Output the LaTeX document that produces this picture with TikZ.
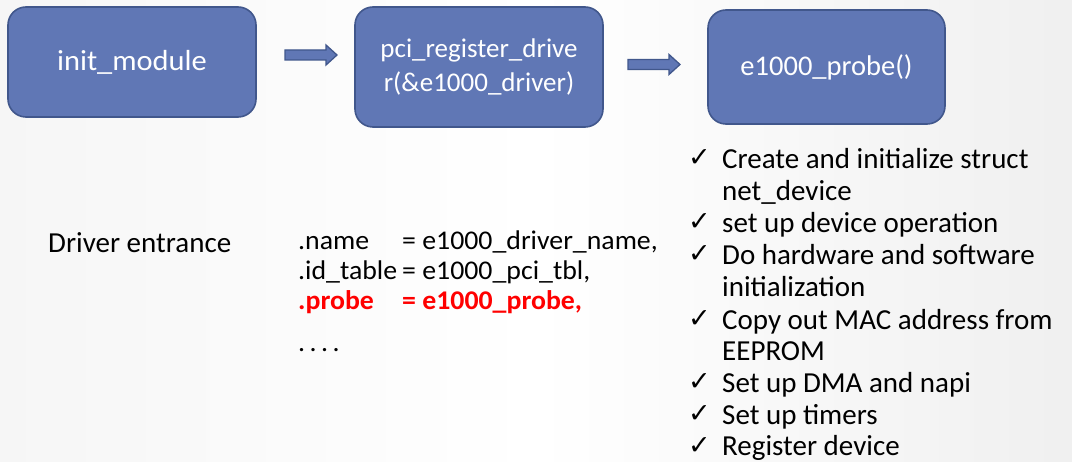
\documentclass[tikz,border=0pt]{standalone}
\usepackage{fontspec}
\setmainfont{Carlito}
\newfontfamily\symfont{DejaVu Sans}
\newfontfamily\widefont[FakeStretch=1.05]{Carlito}
\newfontfamily\codefont[FakeStretch=1.03]{Carlito}
\definecolor{boxblue}{HTML}{6077B5}
\definecolor{boxedge}{HTML}{41578C}
\definecolor{probered}{HTML}{FF0000}
\tikzset{
  blk/.style={draw=boxedge, line width=1.6pt, fill=boxblue, rounded corners=18pt,
    text=white, font=\fontsize{27}{34}\selectfont, align=center, inner sep=0pt},
  blockarrow/.pic={\filldraw[draw=boxedge, fill=boxblue, line width=1.3pt]
     (0,-5)--(41,-5)--(41,-10)--(52,0)--(41,10)--(41,5)--(0,5)--cycle;},
  plain/.style={anchor=base west, inner sep=0pt, font=\fontsize{29}{30}\selectfont},
  code/.style={anchor=base west, inner sep=0pt, font=\codefont\fontsize{27}{30}\selectfont},
  redcode/.style={code, text=probered, font=\codefont\fontsize{27}{30}\selectfont\bfseries},
  item/.style={anchor=base west, inner sep=0pt, font=\fontsize{29}{32}\selectfont},
  tick/.style={anchor=base west, inner sep=0pt, font=\symfont\fontsize{27}{28}\selectfont},
}
\begin{document}
\begin{tikzpicture}[x=1pt, y=-1pt]
\shade[left color=gray!7, right color=gray!12, middle color=white, shading angle=90]
  (0,0) rectangle (1072,462);
\useasboundingbox (0,0) rectangle (1072,462);

\node[blk, minimum width=248pt, minimum height=110pt, font=\widefont\fontsize{29}{34}\selectfont] (m1) at (132,62) {init\_module};
\node[blk, minimum width=248pt, minimum height=120pt] (m2) at (479,67) {pci\_register\_drive\\r(\&e1000\_driver)};
\node[blk, minimum width=237pt, minimum height=114pt, font=\fontsize{28.5}{34}\selectfont] (m3) at (826.5,67) {e1000\_probe()};

\coordinate (a1) at (285,55);
\coordinate (a2) at (628,64.5);
\pic at (a1) {blockarrow};
\pic at (a2) {blockarrow};

\node[plain] (drv) at (48,253) {Driver entrance};

\node[code] (n1) at (298,250) {.name};
\node[code] (v1) at (402,250) {= e1000\_driver\_name,};
\node[code] (n2) at (298,280) {.id\_table};
\node[code] (v2) at (402,280) {= e1000\_pci\_tbl,};
\node[redcode] (n3) at (298,310) {.probe};
\node[redcode] (v3) at (402,310) {= e1000\_probe,};
\node[code] (n4) at (298,352) {.\,.\,.\,.};

\foreach \y/\t [count=\i] in {
  169/{Create and initialize struct},
  233/{set up device operation},
  265/{Do hardware and software},
  330/{Copy out MAC address from},
  393/{Set up DMA and napi},
  425/{Set up timers},
  456/{Register device}} {
  \node[tick] (t\i) at (688,\y-2) {✓};
  \node[item] (l\i) at (722,\y) {\t};
}
\node[item] (c1) at (722,201) {net\_device};
\node[item] (c3) at (722,297) {initialization};
\node[item] (c4) at (722,361) {EEPROM};
\end{tikzpicture}
\end{document}
